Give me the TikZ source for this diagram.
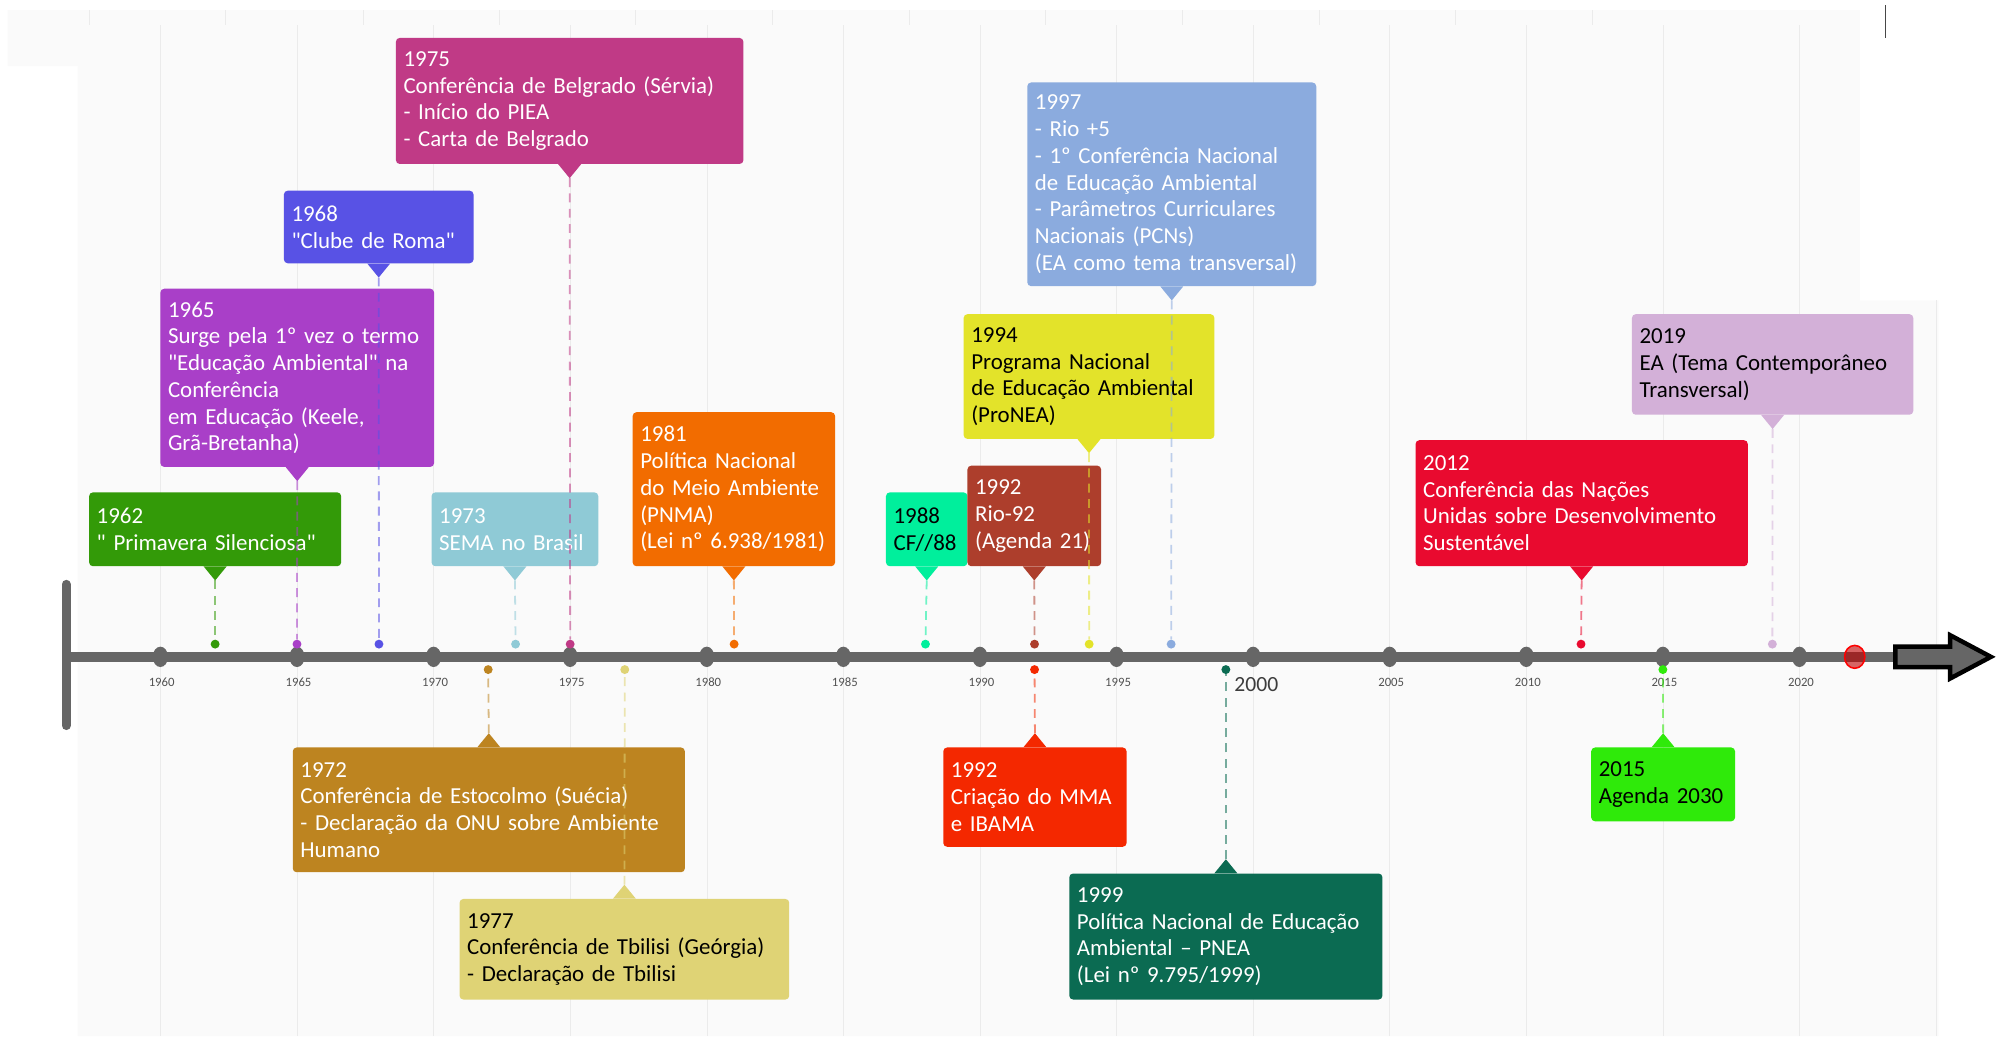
\documentclass[tikz,border=0pt]{standalone}
\usepackage{fontspec}
\setmainfont{Carlito}[Ligatures=TeXOff]
\usepackage{xcolor}
\definecolor{axisgray}{HTML}{666666}
\definecolor{gridgray}{HTML}{EBEBEB}
\definecolor{bggray}{HTML}{FAFAFA}
\definecolor{ev62}{HTML}{339A08}
\definecolor{ev65}{HTML}{A93FC8}
\definecolor{ev68}{HTML}{5852E5}
\definecolor{ev75}{HTML}{C03A86}
\definecolor{ev73}{HTML}{8FCAD6}
\definecolor{ev81}{HTML}{F26C00}
\definecolor{ev88}{HTML}{00EF9C}
\definecolor{ev92}{HTML}{AD3E2C}
\definecolor{ev94}{HTML}{E3E32A}
\definecolor{ev97}{HTML}{8BABDE}
\definecolor{ev12}{HTML}{E90A2F}
\definecolor{ev19}{HTML}{D3B0D8}
\definecolor{ev72}{HTML}{BD8420}
\definecolor{ev77}{HTML}{DFD375}
\definecolor{ev92b}{HTML}{F42800}
\definecolor{ev99}{HTML}{0B6B52}
\definecolor{ev15}{HTML}{2FEA0A}
\newcommand{\evfont}{\fontsize{18}{21}\selectfont}
\newcommand{\yrfont}{\fontsize{10}{12}\selectfont}

\begin{document}
\begin{tikzpicture}[x=1pt,y=1pt,
  evbox/.style={rounded corners=3pt,inner xsep=6pt,inner ysep=5pt,align=left,font=\evfont,text=white},
  evdot/.style={circle,minimum size=7pt},
  guide/.style={dash pattern=on 7pt off 5pt,line width=1.4pt,opacity=0.55},
  yearlab/.style={font=\yrfont,text=axisgray!80!black}]
\tikzstyle{every node}+=[inner sep=0pt]
\useasboundingbox (0,0) rectangle (1568,-814);
\fill[bggray] (6,-8) -- (1461,-8) -- (1461,-236) -- (1523,-236) -- (1523,-814) -- (61,-814) -- (61,-52) -- (6,-52) -- cycle;
\draw[gridgray] (70,-8) -- (70,-20);
\draw[gridgray] (177,-8) -- (177,-20);
\draw[gridgray] (285,-8) -- (285,-20);
\draw[gridgray] (392,-8) -- (392,-20);
\draw[gridgray] (499,-8) -- (499,-20);
\draw[gridgray] (607,-8) -- (607,-20);
\draw[gridgray] (714,-8) -- (714,-20);
\draw[gridgray] (821,-8) -- (821,-20);
\draw[gridgray] (929,-8) -- (929,-20);
\draw[gridgray] (1036,-8) -- (1036,-20);
\draw[gridgray] (1143,-8) -- (1143,-20);
\draw[gridgray] (1251,-8) -- (1251,-20);
\draw[gridgray] (126,-20) -- (126,-814);
\draw[gridgray] (233.3,-20) -- (233.3,-814);
\draw[gridgray] (340.6,-20) -- (340.6,-814);
\draw[gridgray] (447.9,-20) -- (447.9,-814);
\draw[gridgray] (555.2,-20) -- (555.2,-814);
\draw[gridgray] (662.5,-20) -- (662.5,-814);
\draw[gridgray] (769.8,-20) -- (769.8,-814);
\draw[gridgray] (877.1,-20) -- (877.1,-814);
\draw[gridgray] (984.4,-20) -- (984.4,-814);
\draw[gridgray] (1091.7,-20) -- (1091.7,-814);
\draw[gridgray] (1199,-20) -- (1199,-814);
\draw[gridgray] (1306.3,-20) -- (1306.3,-814);
\draw[gridgray] (1413.6,-20) -- (1413.6,-814);
\draw[gridgray] (1520.9,-236) -- (1520.9,-814);
\draw[axisgray!70!black,line width=1pt] (1481,-4) -- (1481,-30);
\draw[axisgray,line width=8pt] (52,-516) -- (1490,-516);
\draw[axisgray,line width=7pt,line cap=round] (52,-459) -- (52,-570);
\fill[axisgray] (126,-516) ellipse (6 and 8);
\fill[axisgray] (233.3,-516) ellipse (6 and 8);
\fill[axisgray] (340.6,-516) ellipse (6 and 8);
\fill[axisgray] (447.9,-516) ellipse (6 and 8);
\fill[axisgray] (555.2,-516) ellipse (6 and 8);
\fill[axisgray] (662.5,-516) ellipse (6 and 8);
\fill[axisgray] (769.8,-516) ellipse (6 and 8);
\fill[axisgray] (877.1,-516) ellipse (6 and 8);
\fill[axisgray] (984.4,-516) ellipse (6 and 8);
\fill[axisgray] (1091.7,-516) ellipse (6 and 8);
\fill[axisgray] (1199,-516) ellipse (6 and 8);
\fill[axisgray] (1306.3,-516) ellipse (6 and 8);
\fill[axisgray] (1413.6,-516) ellipse (6 and 8);
\node[yearlab] (y1960) at (127,-536) {1960};
\node[yearlab] (y1965) at (234.5,-536) {1965};
\node[yearlab] (y1970) at (341.8,-536) {1970};
\node[yearlab] (y1975) at (449.1,-536) {1975};
\node[yearlab] (y1980) at (556.4,-536) {1980};
\node[yearlab] (y1985) at (663.7,-536) {1985};
\node[yearlab] (y1990) at (771,-536) {1990};
\node[yearlab] (y1995) at (878.3,-536) {1995};
\node[yearlab,font=\fontsize{17}{19}\selectfont,text=axisgray!60!black] (y2000) at (987,-538) {2000};
\node[yearlab] (y2005) at (1092.9,-536) {2005};
\node[yearlab] (y2010) at (1200.2,-536) {2010};
\node[yearlab] (y2015) at (1307.5,-536) {2015};
\node[yearlab] (y2020) at (1414.8,-536) {2020};
\node[evbox,fill=ev62,text width=186pt,minimum height=58pt,anchor=south] (b1962) at (169,-445) {1962\\" Primavera Silenciosa"};
\node[evbox,fill=ev65,text width=203pt,minimum height=140pt,anchor=south] (b1965) at (233.5,-367) {1965\\Surge pela 1º vez o termo\\"Educação Ambiental" na\\Conferência\\em Educação (Keele,\\Grã-Bretanha)};
\node[evbox,fill=ev68,text width=137pt,minimum height=57pt,anchor=south] (b1968) at (297.5,-207) {1968\\"Clube de Roma"};
\node[evbox,fill=ev75,text width=261pt,minimum height=99pt,anchor=south] (b1975) at (447.5,-129) {1975\\Conferência de Belgrado (Sérvia)\\- Início do PIEA\\- Carta de Belgrado};
\node[evbox,fill=ev73,text width=119pt,minimum height=58pt,anchor=south] (b1973) at (404.5,-445) {1973\\SEMA no Brasil};
\node[evbox,fill=ev81,text width=147pt,minimum height=121pt,anchor=south] (b1981) at (576.5,-445) {1981\\Política Nacional\\do Meio Ambiente\\(PNMA)\\(Lei nº 6.938/1981)};
\node[evbox,fill=ev88,text=black,text width=52pt,minimum height=58pt,anchor=south] (b1988) at (728,-445) {1988\\CF//88};
\node[evbox,fill=ev92,text width=93pt,minimum height=79pt,anchor=south] (b1992) at (812.5,-445) {1992\\Rio-92\\(Agenda 21)};
\node[evbox,fill=ev94,text=black,text width=185pt,minimum height=98pt,anchor=south] (b1994) at (855.5,-345) {1994\\Programa Nacional\\de Educação Ambiental\\(ProNEA)};
\node[evbox,fill=ev97,text width=215pt,minimum height=160pt,anchor=south] (b1997) at (920.5,-225) {1997\\- Rio +5\\- 1º Conferência Nacional\\de Educação Ambiental\\- Parâmetros Curriculares\\Nacionais (PCNs)\\(EA como tema transversal)};
\node[evbox,fill=ev12,text width=249pt,minimum height=99pt,anchor=south] (b2012) at (1242.5,-445) {2012\\Conferência das Nações\\Unidas sobre Desenvolvimento\\Sustentável};
\node[evbox,fill=ev19,text=black,text width=209pt,minimum height=79pt,anchor=south] (b2019) at (1392.5,-326) {2019\\EA (Tema Contemporâneo\\Transversal)};
\node[evbox,fill=ev72,text width=296pt,minimum height=98pt,anchor=north] (b1972) at (384,-587) {1972\\Conferência de Estocolmo (Suécia)\\- Declaração da ONU sobre Ambiente\\Humano};
\node[evbox,fill=ev77,text=black,text width=247pt,minimum height=79pt,anchor=north] (b1977) at (490.5,-706) {1977\\Conferência de Tbilisi (Geórgia)\\- Declaração de Tbilisi};
\node[evbox,fill=ev92b,text width=132pt,minimum height=78pt,anchor=north] (b1992b) at (813,-587) {1992\\Criação do MMA\\e IBAMA};
\node[evbox,fill=ev99,text width=234pt,minimum height=99pt,anchor=north] (b1999) at (963,-686) {1999\\Política Nacional de Educação\\Ambiental – PNEA\\(Lei nº 9.795/1999)};
\node[evbox,fill=ev15,text=black,text width=101pt,minimum height=58pt,anchor=north] (b2015) at (1306.5,-587) {2015\\Agenda 2030};
\coordinate (t1962) at ([yshift=-11pt]b1962.south);
\coordinate (t1965) at ([yshift=-11pt]b1965.south);
\coordinate (t1968) at ([yshift=-11pt]b1968.south);
\coordinate (t1975) at ([yshift=-11pt]b1975.south);
\coordinate (t1973) at ([yshift=-11pt]b1973.south);
\coordinate (t1981) at ([yshift=-11pt]b1981.south);
\coordinate (t1988) at ([yshift=-11pt]b1988.south);
\coordinate (t1992) at ([yshift=-11pt]b1992.south);
\coordinate (t1994) at ([yshift=-11pt]b1994.south);
\coordinate (t1997) at ([yshift=-11pt]b1997.south);
\coordinate (t2012) at ([yshift=-11pt]b2012.south);
\coordinate (t2019) at ([yshift=-11pt]b2019.south);
\coordinate (t1972) at ([yshift=11pt]b1972.north);
\coordinate (t1977) at ([yshift=11pt]b1977.north);
\coordinate (t1992b) at ([yshift=11pt]b1992b.north);
\coordinate (t1999) at ([yshift=11pt]b1999.north);
\coordinate (t2015) at ([yshift=11pt]b2015.north);
\fill[ev62] ([xshift=-9pt]b1962.south) -- ([xshift=9pt]b1962.south) -- (t1962) -- cycle;
\fill[ev65] ([xshift=-9pt]b1965.south) -- ([xshift=9pt]b1965.south) -- (t1965) -- cycle;
\fill[ev68] ([xshift=-9pt]b1968.south) -- ([xshift=9pt]b1968.south) -- (t1968) -- cycle;
\fill[ev75] ([xshift=-9pt]b1975.south) -- ([xshift=9pt]b1975.south) -- (t1975) -- cycle;
\fill[ev73] ([xshift=-9pt]b1973.south) -- ([xshift=9pt]b1973.south) -- (t1973) -- cycle;
\fill[ev81] ([xshift=-9pt]b1981.south) -- ([xshift=9pt]b1981.south) -- (t1981) -- cycle;
\fill[ev88] ([xshift=-9pt]b1988.south) -- ([xshift=9pt]b1988.south) -- (t1988) -- cycle;
\fill[ev92] ([xshift=-9pt]b1992.south) -- ([xshift=9pt]b1992.south) -- (t1992) -- cycle;
\fill[ev94] ([xshift=-9pt]b1994.south) -- ([xshift=9pt]b1994.south) -- (t1994) -- cycle;
\fill[ev97] ([xshift=-9pt]b1997.south) -- ([xshift=9pt]b1997.south) -- (t1997) -- cycle;
\fill[ev12] ([xshift=-9pt]b2012.south) -- ([xshift=9pt]b2012.south) -- (t2012) -- cycle;
\fill[ev19] ([xshift=-9pt]b2019.south) -- ([xshift=9pt]b2019.south) -- (t2019) -- cycle;
\fill[ev72] ([xshift=-9pt]b1972.north) -- ([xshift=9pt]b1972.north) -- (t1972) -- cycle;
\fill[ev77] ([xshift=-9pt]b1977.north) -- ([xshift=9pt]b1977.north) -- (t1977) -- cycle;
\fill[ev92b] ([xshift=-9pt]b1992b.north) -- ([xshift=9pt]b1992b.north) -- (t1992b) -- cycle;
\fill[ev99] ([xshift=-9pt]b1999.north) -- ([xshift=9pt]b1999.north) -- (t1999) -- cycle;
\fill[ev15] ([xshift=-9pt]b2015.north) -- ([xshift=9pt]b2015.north) -- (t2015) -- cycle;
\node[evdot,fill=ev62] (d1962) at (169,-506) {};
\node[evdot,fill=ev65] (d1965) at (233.3,-506) {};
\node[evdot,fill=ev68] (d1968) at (297.7,-506) {};
\node[evdot,fill=ev75] (d1975) at (447.9,-506) {};
\node[evdot,fill=ev73] (d1973) at (405,-506) {};
\node[evdot,fill=ev81] (d1981) at (576.7,-506) {};
\node[evdot,fill=ev88] (d1988) at (727,-506) {};
\node[evdot,fill=ev92] (d1992) at (812.7,-506) {};
\node[evdot,fill=ev94] (d1994) at (855.6,-506) {};
\node[evdot,fill=ev97] (d1997) at (920,-506) {};
\node[evdot,fill=ev12] (d2012) at (1242,-506) {};
\node[evdot,fill=ev19] (d2019) at (1392.3,-506) {};
\node[evdot,fill=ev72] (d1972) at (383.5,-526) {};
\node[evdot,fill=ev77] (d1977) at (490.8,-526) {};
\node[evdot,fill=ev92b] (d1992b) at (812.7,-526) {};
\node[evdot,fill=ev99] (d1999) at (963,-526) {};
\node[evdot,fill=ev15] (d2015) at (1306.3,-526) {};
\draw[guide,ev62] (t1962) -- (d1962);
\draw[guide,ev65] (t1965) -- (d1965);
\draw[guide,ev68] (t1968) -- (d1968);
\draw[guide,ev75] (t1975) -- (d1975);
\draw[guide,ev73] (t1973) -- (d1973);
\draw[guide,ev81] (t1981) -- (d1981);
\draw[guide,ev88] (t1988) -- (d1988);
\draw[guide,ev92] (t1992) -- (d1992);
\draw[guide,ev94] (t1994) -- (d1994);
\draw[guide,ev97] (t1997) -- (d1997);
\draw[guide,ev12] (t2012) -- (d2012);
\draw[guide,ev19] (t2019) -- (d2019);
\draw[guide,ev72] (t1972) -- (d1972);
\draw[guide,ev77] (t1977) -- (d1977);
\draw[guide,ev92b] (t1992b) -- (d1992b);
\draw[guide,ev99] (t1999) -- (d1999);
\draw[guide,ev15] (t2015) -- (d2015);
\draw[red,fill=red!75!black,fill opacity=0.6,line width=1.2pt] (1457,-516) ellipse (8 and 9);
\draw[black,fill=axisgray,line width=3.5pt,line join=miter] (1489,-508) -- (1532,-508) -- (1532,-499) -- (1564,-516) -- (1532,-533) -- (1532,-524) -- (1489,-524) -- cycle;
\end{tikzpicture}
\end{document}
